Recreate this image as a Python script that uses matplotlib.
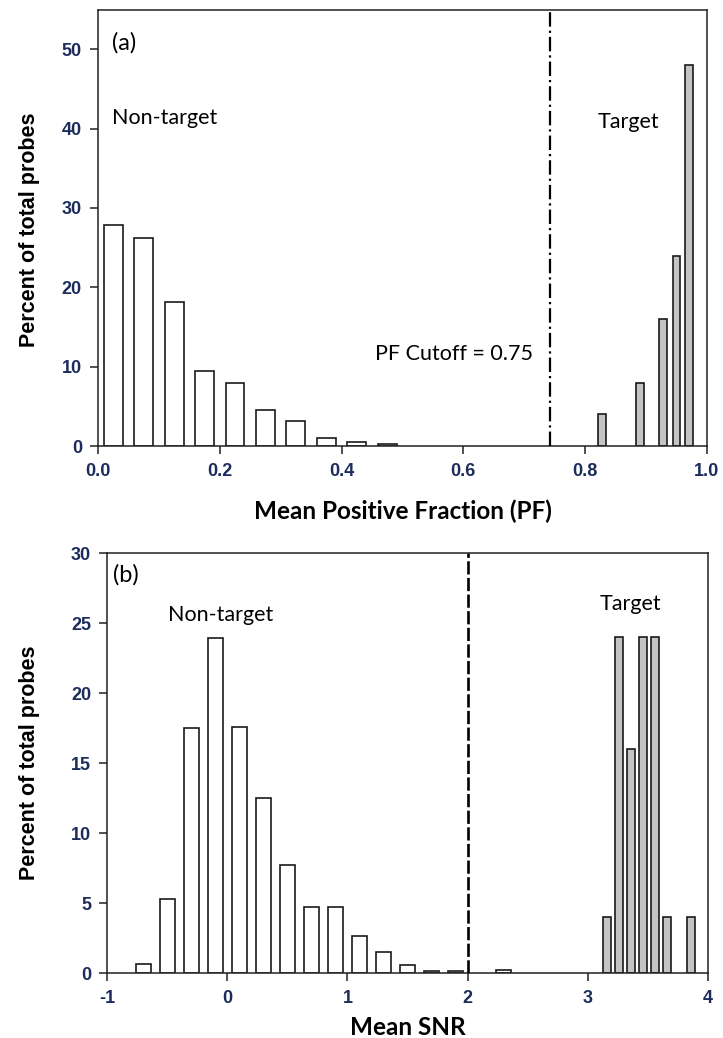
import matplotlib
matplotlib.use('Agg')
import matplotlib.pyplot as plt

# Panel (a): mean positive fraction histogram
pf_nontarget_x = [0.025, 0.075, 0.125, 0.175, 0.225, 0.275, 0.325, 0.375, 0.425, 0.475]
pf_nontarget_pct = [27.8, 26.2, 18.2, 9.4, 8.0, 4.6, 3.2, 1.0, 0.5, 0.3]
pf_target_x = [0.828, 0.890, 0.928, 0.950, 0.970]
pf_target_pct = [4, 8, 16, 24, 48]
pf_cutoff = 0.742

# Panel (b): mean SNR histogram
snr_nontarget_x = [-0.7, -0.5, -0.3, -0.1, 0.1, 0.3, 0.5, 0.7, 0.9, 1.1, 1.3, 1.5, 1.7, 1.9, 2.3]
snr_nontarget_pct = [0.65, 5.3, 17.5, 23.9, 17.6, 12.5, 7.7, 4.7, 4.7, 2.65, 1.5, 0.6, 0.15, 0.15, 0.25]
snr_target_x = [3.16, 3.26, 3.36, 3.46, 3.56, 3.66, 3.86]
snr_target_pct = [4, 24, 16, 24, 24, 4, 4]
snr_cutoff = 2.0

pf_ticks = [0.0, 0.2, 0.4, 0.6, 0.8, 1.0]
pf_yticks = [0, 10, 20, 30, 40, 50]
snr_ticks = [-1, 0, 1, 2, 3, 4]
snr_yticks = [0, 5, 10, 15, 20, 25, 30]

TICK_COLOR = '#1c2c5c'
EDGE = '#1a1a1a'
GRAY = '#c4c4c4'
TEXT_FONT = 'Lato'


def style_axes(ax):
    for side in ['top', 'right', 'bottom', 'left']:
        ax.spines[side].set_linewidth(1.1)
        ax.spines[side].set_color('#222222')
    ax.tick_params(axis='both', direction='out', length=5.5, width=1.1,
                   color='#222222', labelcolor=TICK_COLOR, labelsize=13)
    ax.tick_params(axis='x', pad=7)
    ax.tick_params(axis='y', pad=6)
    for lab in ax.get_xticklabels() + ax.get_yticklabels():
        lab.set_fontfamily('Liberation Sans')
        lab.set_fontweight('bold')


fig = plt.figure(figsize=(7.23, 10.38), dpi=100)

# ---- panel (a)
ax1 = fig.add_axes([0.1355, 0.5703, 0.8423, 0.4205])
ax1.bar(pf_nontarget_x, pf_nontarget_pct, width=0.031, color='white',
        edgecolor=EDGE, linewidth=1.2, zorder=2)
ax1.bar(pf_target_x, pf_target_pct, width=0.013, color=GRAY,
        edgecolor=EDGE, linewidth=1.2, zorder=2)
ax1.axvline(pf_cutoff, color='black', linewidth=1.6,
            linestyle=(0, (6.5, 1.8, 1.0, 1.8)), zorder=3)
ax1.set_xlim(0, 1)
ax1.set_ylim(0, 55)
ax1.set_xticks(pf_ticks)
ax1.set_xticklabels(['%.1f' % t for t in pf_ticks])
ax1.set_yticks(pf_yticks)
ax1.set_yticklabels([str(t) for t in pf_yticks])
style_axes(ax1)
ax1.set_xlabel('Mean Positive Fraction (PF)', fontsize=17.5, fontweight='bold',
               family=TEXT_FONT, labelpad=14)
ax1.text(0.023, 0.923, '(a)', transform=ax1.transAxes, fontsize=17,
         family=TEXT_FONT, va='center', ha='left')
ax1.text(0.023, 0.751, 'Non-target', transform=ax1.transAxes, fontsize=15.5,
         family=TEXT_FONT, va='center', ha='left')
ax1.text(0.714, 0.211, 'PF Cutoff = 0.75', transform=ax1.transAxes, fontsize=15.5,
         family=TEXT_FONT, va='center', ha='right')
ax1.text(0.821, 0.742, 'Target', transform=ax1.transAxes, fontsize=15.5,
         family=TEXT_FONT, va='center', ha='left')

# ---- panel (b)
ax2 = fig.add_axes([0.148, 0.0626, 0.8313, 0.4046])
ax2.bar(snr_nontarget_x, snr_nontarget_pct, width=0.125, color='white',
        edgecolor=EDGE, linewidth=1.2, zorder=2)
ax2.bar(snr_target_x, snr_target_pct, width=0.066, color=GRAY,
        edgecolor=EDGE, linewidth=1.2, zorder=2)
ax2.axvline(snr_cutoff, color='black', linewidth=1.9,
            linestyle=(0, (5.0, 1.3)), zorder=3)
ax2.set_xlim(-1, 4)
ax2.set_ylim(0, 30)
ax2.set_xticks(snr_ticks)
ax2.set_xticklabels([str(t) for t in snr_ticks])
ax2.set_yticks(snr_yticks)
ax2.set_yticklabels([str(t) for t in snr_yticks])
style_axes(ax2)
ax2.set_xlabel('Mean SNR', fontsize=17.5, fontweight='bold',
               family=TEXT_FONT, labelpad=6)
ax2.text(0.010, 0.948, '(b)', transform=ax2.transAxes, fontsize=17,
         family=TEXT_FONT, va='center', ha='left')
ax2.text(0.1015, 0.852, 'Non-target', transform=ax2.transAxes, fontsize=15.5,
         family=TEXT_FONT, va='center', ha='left')
ax2.text(0.820, 0.879, 'Target', transform=ax2.transAxes, fontsize=15.5,
         family=TEXT_FONT, va='center', ha='left')

# y labels
fig.text(29 / 723, 1 - 230 / 1038, 'Percent of total probes', rotation=90,
         ha='center', va='center', fontsize=15.5, fontweight='bold',
         family='Liberation Sans')
fig.text(29 / 723, 1 - 763 / 1038, 'Percent of total probes', rotation=90,
         ha='center', va='center', fontsize=15.5, fontweight='bold',
         family='Liberation Sans')

fig.savefig('out.png', dpi=100)
